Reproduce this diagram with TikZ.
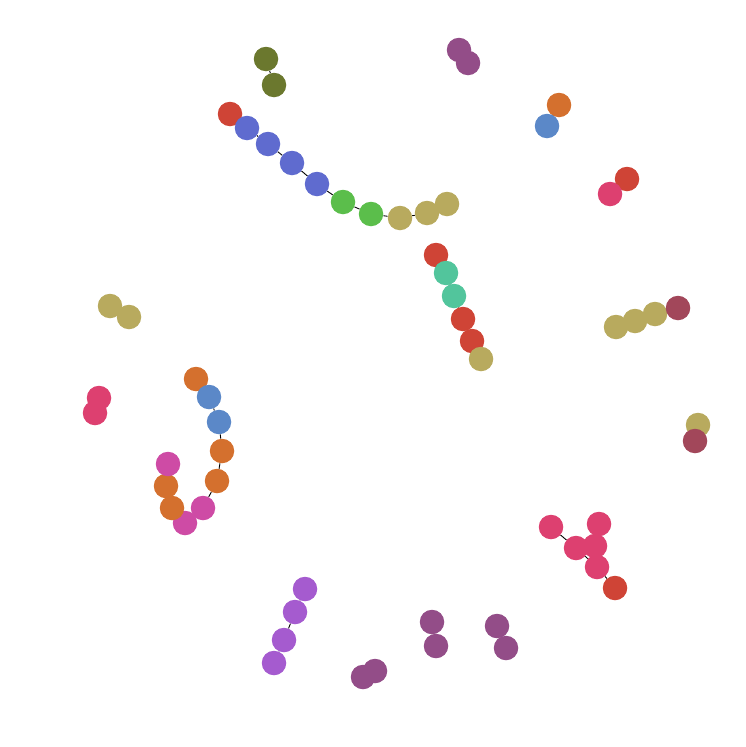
\documentclass[tikz,border=0pt]{standalone}
\usetikzlibrary{backgrounds}
\definecolor{cOlive}{RGB}{107,120,46}
\definecolor{cMauve}{RGB}{147,77,136}
\definecolor{cOrange}{RGB}{212,112,46}
\definecolor{cSteel}{RGB}{91,136,200}
\definecolor{cRed}{RGB}{207,68,54}
\definecolor{cPink}{RGB}{221,64,112}
\definecolor{cIndigo}{RGB}{95,107,207}
\definecolor{cGreen}{RGB}{91,190,75}
\definecolor{cKhaki}{RGB}{184,170,94}
\definecolor{cTeal}{RGB}{82,197,156}
\definecolor{cMaroon}{RGB}{162,71,90}
\definecolor{cMagenta}{RGB}{206,75,165}
\definecolor{cLav}{RGB}{165,91,207}
\tikzset{
  v/.style={circle,inner sep=0pt,minimum size=24.5pt,fill=#1,draw=none},
  e/.style={draw=black,line width=0.9pt}
}
\begin{document}
\begin{tikzpicture}[x=1pt,y=-1pt]
\useasboundingbox (0,0) rectangle (746,747);
% top small groups
\node[v=cOlive] (o1) at (266,59) {};
\node[v=cOlive] (o2) at (274,85) {};
\node[v=cMauve] (m1) at (459,50) {};
\node[v=cMauve] (m2) at (468,63) {};
\node[v=cOrange] (a1) at (559,105) {};
\node[v=cSteel] (a2) at (547,126) {};
\node[v=cRed] (r1) at (627,179) {};
\node[v=cPink] (r2) at (610,194) {};
% long chain
\node[v=cRed] (c1) at (230,114) {};
\node[v=cIndigo] (c2) at (247,128) {};
\node[v=cIndigo] (c3) at (268,144) {};
\node[v=cIndigo] (c4) at (292,163) {};
\node[v=cIndigo] (c5) at (317,184) {};
\node[v=cGreen] (c6) at (343,202) {};
\node[v=cGreen] (c7) at (371,214) {};
\node[v=cKhaki] (c8) at (400,218) {};
\node[v=cKhaki] (c9) at (427,213) {};
\node[v=cKhaki] (c10) at (447,204) {};
% second chain
\node[v=cRed] (d1) at (436,255) {};
\node[v=cTeal] (d2) at (446,273) {};
\node[v=cTeal] (d3) at (454,296) {};
\node[v=cRed] (d4) at (463,319) {};
\node[v=cRed] (d5) at (472,341) {};
\node[v=cKhaki] (d6) at (481,359) {};
% khaki pair
\node[v=cKhaki] (k1) at (110,306) {};
\node[v=cKhaki] (k2) at (129,317) {};
% right khaki chain
\node[v=cKhaki] (g1) at (616,327) {};
\node[v=cKhaki] (g2) at (635,321) {};
\node[v=cKhaki] (g3) at (655,314) {};
\node[v=cMaroon] (g4) at (678,308) {};
% pink pair
\node[v=cPink] (p1) at (99,398) {};
\node[v=cPink] (p2) at (95,413) {};
% khaki/maroon pair
\node[v=cKhaki] (h1) at (698,425) {};
\node[v=cMaroon] (h2) at (695,441) {};
% left hook chain
\node[v=cOrange] (l1) at (196,379) {};
\node[v=cSteel] (l2) at (209,397) {};
\node[v=cSteel] (l3) at (219,422) {};
\node[v=cOrange] (l4) at (222,451) {};
\node[v=cOrange] (l5) at (217,481) {};
\node[v=cMagenta] (l6) at (203,508) {};
\node[v=cMagenta] (l7) at (185,523) {};
\node[v=cOrange] (l8) at (172,508) {};
\node[v=cOrange] (l9) at (166,486) {};
\node[v=cMagenta] (l10) at (168,464) {};
% pink cluster
\node[v=cPink] (s1) at (551,527) {};
\node[v=cPink] (s2) at (599,524) {};
\node[v=cPink] (s3) at (576,548) {};
\node[v=cPink] (s4) at (595,546) {};
\node[v=cPink] (s5) at (597,567) {};
\node[v=cRed] (s6) at (615,588) {};
% purple chain
\node[v=cLav] (u1) at (305,589) {};
\node[v=cLav] (u2) at (295,612) {};
\node[v=cLav] (u3) at (284,640) {};
\node[v=cLav] (u4) at (274,663) {};
% bottom mauve pairs
\node[v=cMauve] (b1) at (363,677) {};
\node[v=cMauve] (b2) at (375,671) {};
\node[v=cMauve] (b3) at (432,622) {};
\node[v=cMauve] (b4) at (436,646) {};
\node[v=cMauve] (b5) at (497,626) {};
\node[v=cMauve] (b6) at (506,648) {};
\begin{pgfonlayer}{background}
\draw[e] (o1)--(o2);
\draw[e] (m1)--(m2);
\draw[e] (a1)--(a2);
\draw[e] (r1)--(r2);
\draw[e] (c1)--(c2)--(c3)--(c4)--(c5)--(c6)--(c7)--(c8)--(c9)--(c10);
\draw[e] (d1)--(d2)--(d3)--(d4)--(d5)--(d6);
\draw[e] (k1)--(k2);
\draw[e] (g1)--(g2)--(g3)--(g4);
\draw[e] (p1)--(p2);
\draw[e] (h1)--(h2);
\draw[e] (l1)--(l2)--(l3)--(l4)--(l5)--(l6)--(l7)--(l8)--(l9)--(l10);
\draw[e] (s1)--(s3)--(s5)--(s6);
\draw[e] (s2)--(s4)--(s3);
\draw[e] (u1)--(u2)--(u3)--(u4);
\draw[e] (b1)--(b2);
\draw[e] (b3)--(b4);
\draw[e] (b5)--(b6);
\end{pgfonlayer}
\end{tikzpicture}
\end{document}
